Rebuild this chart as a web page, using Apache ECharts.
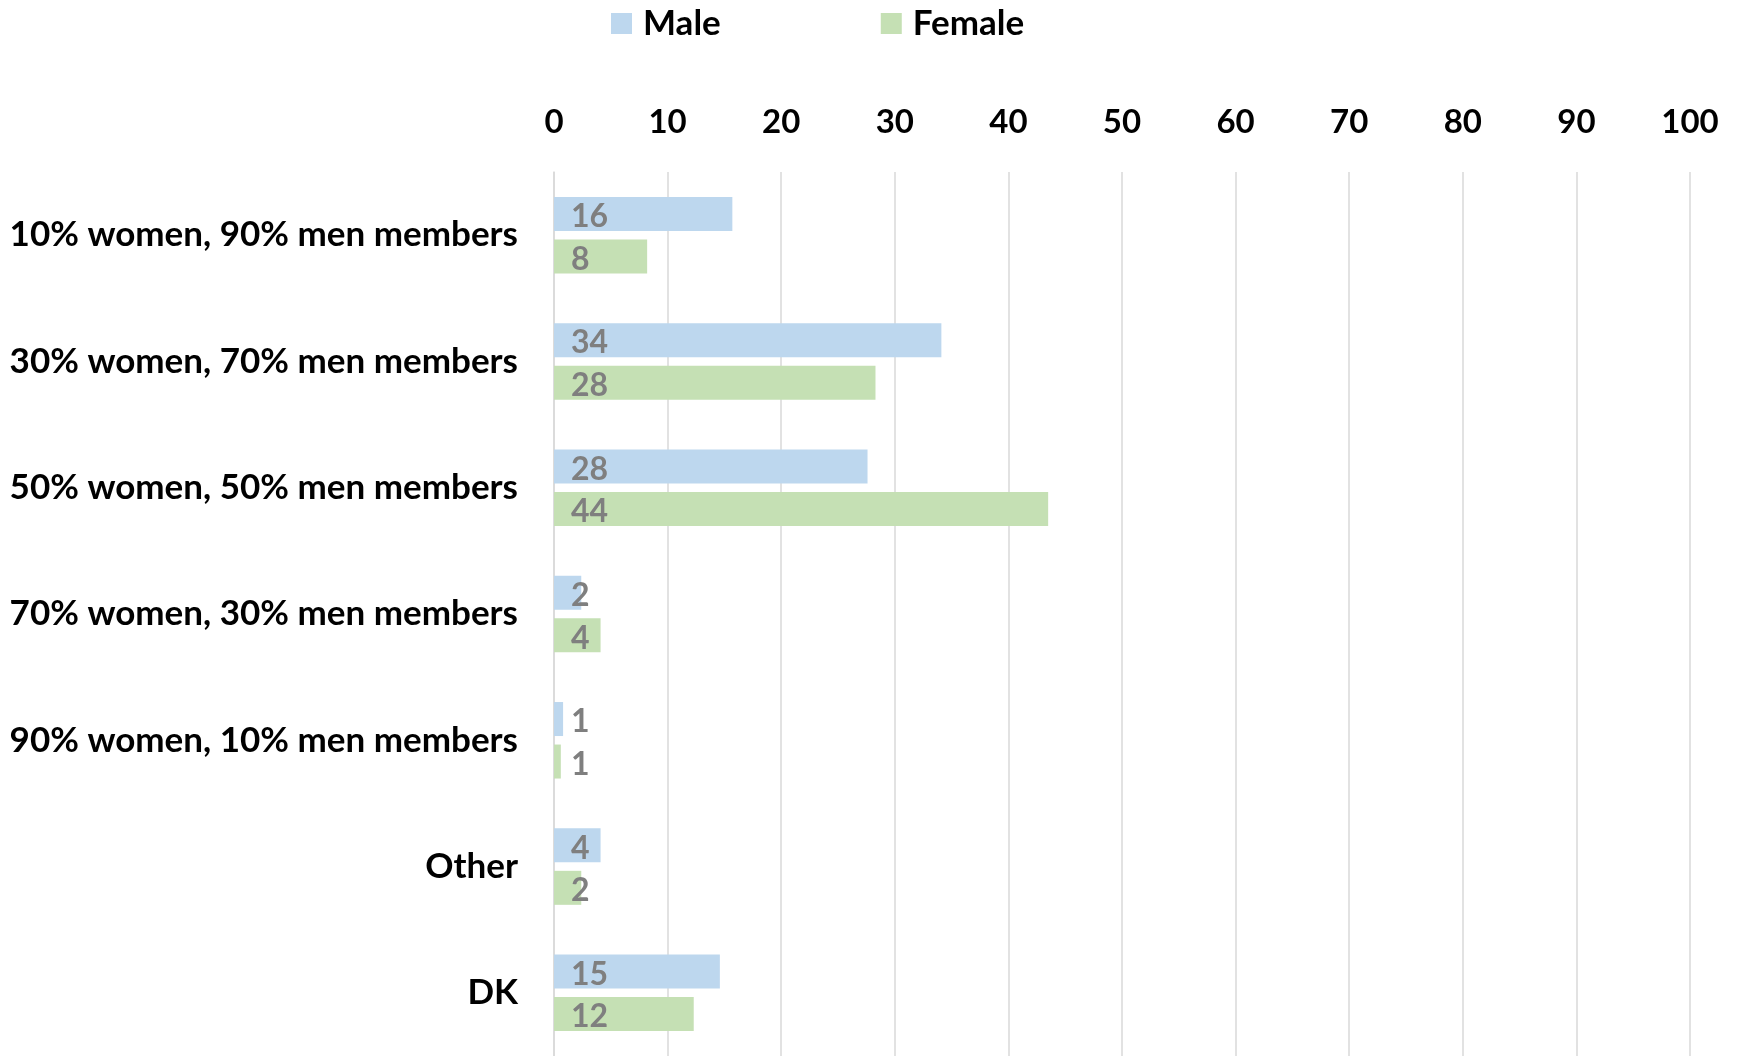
<!DOCTYPE html>
<html><head><meta charset="utf-8">
<script src="https://cdn.jsdelivr.net/npm/echarts@6/dist/echarts.min.js"></script>
<style>html,body{margin:0;padding:0;background:#fff}#c{width:1740px;height:1056px}</style>
</head><body><div id="c"></div>
<script>
const categories = ["10% women, 90% men members","30% women, 70% men members","50% women, 50% men members","70% women, 30% men members","90% women, 10% men members","Other","DK"];
const maleValues = [15.7, 34.1, 27.6, 2.4, 0.8, 4.1, 14.6];
const femaleValues = [8.2, 28.3, 43.5, 4.1, 0.6, 2.4, 12.3];
const seriesNames = ["Male","Female"];

const FONT = 'Lato, "Open Sans", sans-serif';
const chart = echarts.init(document.getElementById('c'));
const lbl = {show:true, position:'insideLeft', distance:17, offset:[0,3], color:'#7f7f7f', fontWeight:'bold', fontSize:32, fontFamily:FONT, formatter:p=>Math.round(p.value)};
chart.setOption({
  animation:false,
  legend:{top:1, left:606, itemWidth:21, itemHeight:21, itemGap:160, icon:'rect',
    textStyle:{fontSize:35, fontWeight:'bold', color:'#000', fontFamily:FONT, padding:[0,0,0,6]}, data:seriesNames},
  grid:{left:554, right:50, top:172, bottom:-4, containLabel:false},
  xAxis:{type:'value', position:'top', min:0, max:100, interval:10,
    axisLine:{show:false}, axisTick:{show:false},
    axisLabel:{fontSize:33, fontWeight:'bold', color:'#000', fontFamily:FONT, margin:33},
    splitLine:{lineStyle:{color:'#d9d9d9', width:1.5}}},
  yAxis:{type:'category', inverse:true, data:categories,
    axisLine:{show:true, lineStyle:{color:'#d9d9d9', width:1.5}}, axisTick:{show:false},
    axisLabel:{fontSize:35, fontWeight:'bold', color:'#000', fontFamily:FONT, margin:36}},
  series:[
    {name:seriesNames[0], type:'bar', data:maleValues, barWidth:34, barGap:'25%', barCategoryGap:'40%',
     itemStyle:{color:'#bdd7ee'}, label:lbl},
    {name:seriesNames[1], type:'bar', data:femaleValues, barWidth:34, barGap:'25%', barCategoryGap:'40%',
     itemStyle:{color:'#c5e0b4'}, label:lbl}
  ]
});
</script></body></html>
